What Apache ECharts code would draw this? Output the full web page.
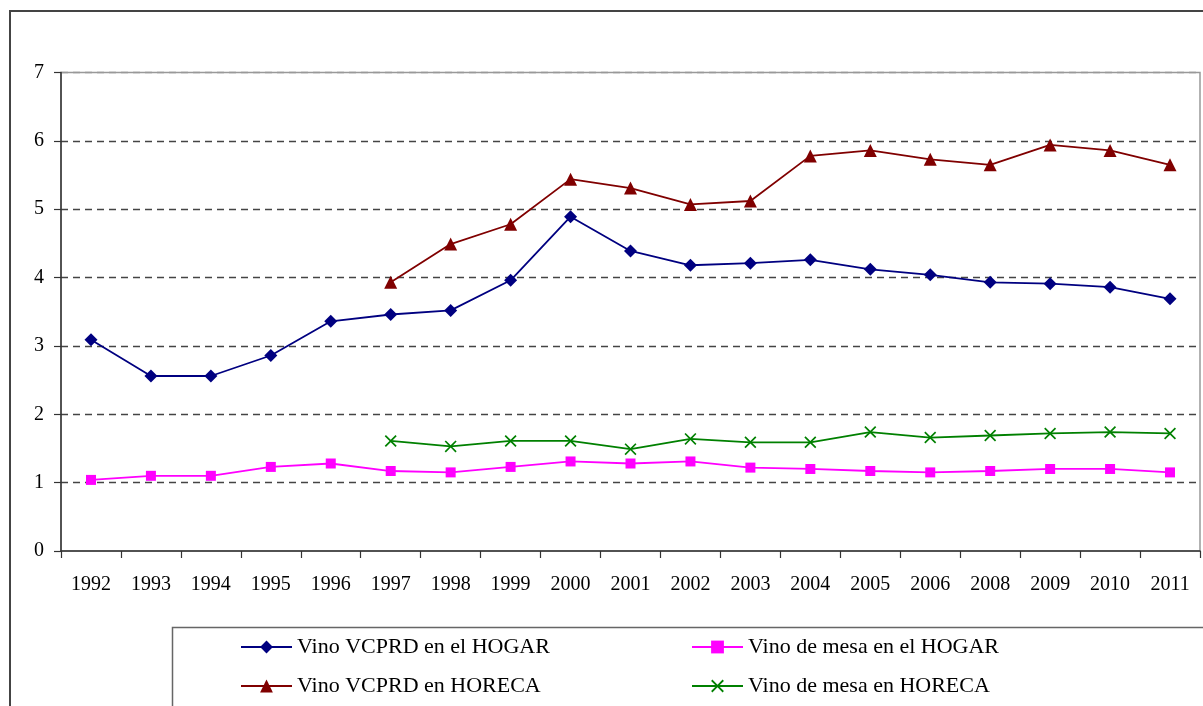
<!DOCTYPE html>
<html lang="es">
<head>
    <meta charset="UTF-8">
    <title>Consumo de vino</title>
    <script type="text/javascript" src="https://cdn.jsdelivr.net/npm/echarts@6/dist/echarts.min.js"></script>
    <style>
        html, body { margin: 0; padding: 0; background: #fff; }
        #container { width: 1203px; height: 706px; }
    </style>
</head>
<body>
<div id="container"></div>
<script>
    var years = ['1992', '1993', '1994', '1995', '1996', '1997', '1998', '1999', '2000', '2001',
        '2002', '2003', '2004', '2005', '2006', '2008', '2009', '2010', '2011'];
    var vcprdHogar = [3.09, 2.56, 2.56, 2.86, 3.36, 3.46, 3.52, 3.96, 4.89, 4.39,
        4.18, 4.21, 4.26, 4.12, 4.04, 3.93, 3.91, 3.86, 3.69];
    var mesaHogar = [1.04, 1.10, 1.10, 1.23, 1.28, 1.17, 1.15, 1.23, 1.31, 1.28,
        1.31, 1.22, 1.20, 1.17, 1.15, 1.17, 1.20, 1.20, 1.15];
    var vcprdHoreca = [null, null, null, null, null, 3.93, 4.49, 4.78, 5.44, 5.31,
        5.07, 5.12, 5.78, 5.86, 5.73, 5.65, 5.94, 5.86, 5.65];
    var mesaHoreca = [null, null, null, null, null, 1.61, 1.53, 1.61, 1.61, 1.49,
        1.64, 1.59, 1.59, 1.74, 1.66, 1.69, 1.72, 1.74, 1.72];
    var yTicks = [0, 1, 2, 3, 4, 5, 6, 7];

    var names = ['Vino VCPRD en el HOGAR', 'Vino de mesa en el HOGAR',
        'Vino VCPRD en HORECA', 'Vino de mesa en HORECA'];
    var crossPath = 'path://M0,1L1,0L5,4L9,0L10,1L6,5L10,9L9,10L5,6L1,10L0,9L4,5Z';
    var fontFamily = '"Liberation Serif", "Times New Roman", serif';

    function makeLegend(name, left, top) {
        return {
            data: [name],
            left: left,
            top: top,
            padding: 0,
            itemWidth: 51,
            itemHeight: 16,
            selectedMode: false,
            textStyle: {fontFamily: fontFamily, fontSize: 22, color: '#000', lineHeight: 24}
        };
    }

    function makeSeries(name, data, color, symbol, size) {
        return {
            name: name,
            type: 'line',
            data: data,
            symbol: symbol,
            symbolSize: size,
            showAllSymbol: true,
            connectNulls: false,
            animation: false,
            lineStyle: {color: color, width: 1.8},
            itemStyle: {color: color}
        };
    }

    var dom = document.getElementById("container");
    var myChart = echarts.init(dom);
    var option = {
        backgroundColor: '#fff',
        animation: false,
        grid: {
            left: 61, right: 3, top: 72.5, bottom: 155,
            show: true, borderColor: '#999', borderWidth: 1.5
        },
        legend: [
            makeLegend(names[0], 240, 635),
            makeLegend(names[1], 691, 635),
            makeLegend(names[2], 240, 674),
            makeLegend(names[3], 691, 674)
        ],
        graphic: [
            {type: 'rect', shape: {x: 10, y: 11, width: 1300, height: 800},
                style: {fill: 'none', stroke: '#444', lineWidth: 2}, silent: true},
            {type: 'rect', shape: {x: 172.5, y: 627.5, width: 1100, height: 200},
                style: {fill: 'none', stroke: '#666', lineWidth: 1.5}, silent: true}
        ],
        xAxis: {
            type: 'category',
            data: years,
            boundaryGap: true,
            axisLine: {lineStyle: {color: '#333', width: 1.5}},
            axisTick: {show: true, inside: false, length: 7, alignWithLabel: false, interval: 0,
                lineStyle: {color: '#333', width: 1.2}},
            axisLabel: {interval: 0, margin: 24, color: '#000', fontSize: 20, fontFamily: fontFamily},
            splitLine: {show: false}
        },
        yAxis: {
            type: 'value',
            min: yTicks[0],
            max: yTicks[yTicks.length - 1],
            interval: 1,
            axisLine: {show: true, lineStyle: {color: '#333', width: 1.5}},
            axisTick: {show: true, inside: false, length: 7, lineStyle: {color: '#333', width: 1.2}},
            axisLabel: {margin: 17, color: '#000', fontSize: 20, fontFamily: fontFamily},
            splitLine: {
                show: true,
                lineStyle: {
                    type: [7, 5],
                    width: 1.3,
                    color: ['transparent', '#444', '#444', '#444', '#444', '#444', '#444', '#999']
                }
            }
        },
        series: [
            makeSeries(names[0], vcprdHogar, '#000080', 'diamond', 13),
            makeSeries(names[1], mesaHogar, '#FF00FF', 'rect', 10),
            makeSeries(names[2], vcprdHoreca, '#800000', 'triangle', 13),
            makeSeries(names[3], mesaHoreca, '#008000', crossPath, 12)
        ]
    };
    myChart.setOption(option, true);
</script>
</body>
</html>
